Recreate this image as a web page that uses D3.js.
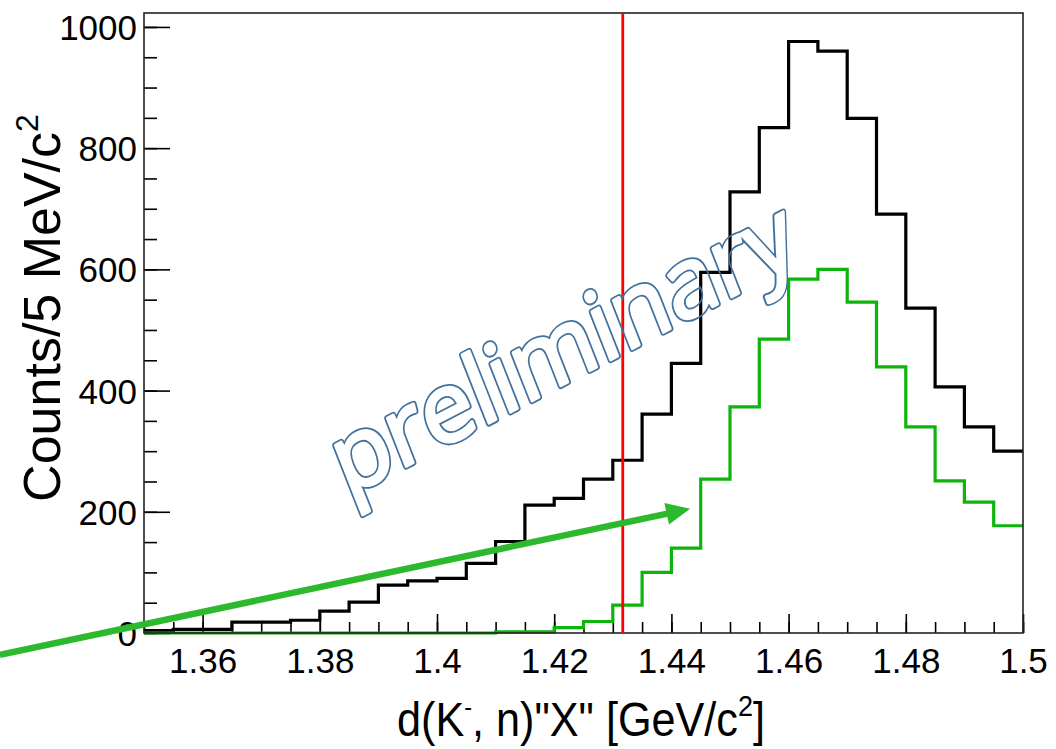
<!DOCTYPE html>
<html>
<head>
<meta charset="utf-8">
<script src="https://cdn.jsdelivr.net/npm/d3@7"></script>
<style>
  body { margin: 0; background: #fff; }
  svg { display: block; }
</style>
</head>
<body>
<svg id="chart" width="1056" height="749"></svg>
<script>
// Binning of the missing-mass histograms (5 MeV/c^2 bins from 1.35 to 1.50 GeV/c^2)
const binLow = 1.35;
const binWidth = 0.005;
const nBins = 30;

// Counts per bin: all events (black) and the selected sample (green)
const allCounts = [4, 6, 6, 18, 18, 21, 36, 51, 79, 86,
                   90, 115, 151, 211, 222, 254, 285, 361, 445, 595,
                   728, 834, 976, 960, 849, 691, 536, 406, 340, 300];
const selectedCounts = [0, 0, 0, 0, 0, 0, 0, 0, 0, 0,
                        0, 0, 2, 2, 9, 19, 46, 100, 140, 254,
                        373, 485, 584, 600, 546, 439, 340, 251, 216, 177];

// K-bar N threshold marker
const thresholdMass = 1.4317;

// Axis ticks and labels
const xMajorTicks = [1.36, 1.38, 1.40, 1.42, 1.44, 1.46, 1.48, 1.50];
const xTickLabels = ["1.36", "1.38", "1.4", "1.42", "1.44", "1.46", "1.48", "1.5"];
const yMajorTicks = [0, 200, 400, 600, 800, 1000];
const yTickLabels = ["0", "200", "400", "600", "800", "1000"];
const yMax = 1023;

// Annotation arrow (data coordinates: mass, counts)
const arrowFrom = [1.3254, -36];
const arrowTo = [1.4432, 205];

const frame = { left: 144, right: 1023, top: 13, bottom: 633 };

const svg = d3.select("#chart");
svg.append("rect").attr("width", 1056).attr("height", 749).attr("fill", "#fff");

const x = d3.scaleLinear().domain([binLow, binLow + nBins * binWidth]).range([frame.left, frame.right]);
const y = d3.scaleLinear().domain([0, yMax]).range([frame.bottom, frame.top]);

const edges = d3.range(nBins + 1).map(i => binLow + i * binWidth);
const xMinorTicks = edges.slice();
const yMinorTicks = d3.range(0, 1001, 50);

const labelFont = "'Liberation Sans', Arial, Helvetica, sans-serif";

// Minor ticks (inside the frame)
const xMinor = svg.append("g").attr("transform", `translate(0,${frame.bottom})`)
  .call(d3.axisBottom(x).tickValues(xMinorTicks).tickSize(-11).tickFormat(""));
const yMinor = svg.append("g").attr("transform", `translate(${frame.left},0)`)
  .call(d3.axisLeft(y).tickValues(yMinorTicks).tickSize(-13).tickFormat(""));

// Major ticks with labels
const xAxis = svg.append("g").attr("transform", `translate(0,${frame.bottom})`)
  .call(d3.axisBottom(x).tickValues(xMajorTicks).tickSize(-19).tickPadding(15)
    .tickFormat((d, i) => xTickLabels[i]));
const yAxis = svg.append("g").attr("transform", `translate(${frame.left},0)`)
  .call(d3.axisLeft(y).tickValues(yMajorTicks).tickSize(-26).tickPadding(7)
    .tickFormat((d, i) => yTickLabels[i]));

[xMinor, yMinor, xAxis, yAxis].forEach(g => {
  g.select(".domain").remove();
  g.selectAll(".tick line").attr("stroke", "#000").attr("stroke-width", 1.6);
  g.selectAll(".tick text").attr("fill", "#000")
    .attr("font-family", labelFont).attr("font-size", 35);
});
yAxis.selectAll(".tick text").attr("dy", "0.36em");

// Histograms drawn as step outlines
const stepLine = d3.line()
  .x(d => x(d[0]))
  .y(d => y(d[1]))
  .curve(d3.curveStepAfter);

function outline(counts) {
  const pts = counts.map((c, i) => [edges[i], c]);
  pts.push([edges[nBins], counts[nBins - 1]]);
  return pts;
}

svg.append("path")
  .attr("d", stepLine(outline(allCounts)))
  .attr("fill", "none").attr("stroke", "#000").attr("stroke-width", 3.2);

svg.append("path")
  .attr("d", stepLine(outline(selectedCounts)))
  .attr("fill", "none").attr("stroke", "#0cb40c").attr("stroke-width", 3.2);

// Frame
svg.append("rect")
  .attr("x", frame.left).attr("y", frame.top)
  .attr("width", frame.right - frame.left).attr("height", frame.bottom - frame.top)
  .attr("fill", "none").attr("stroke", "#222").attr("stroke-width", 1.6);

// Threshold line
svg.append("line")
  .attr("x1", x(thresholdMass)).attr("x2", x(thresholdMass))
  .attr("y1", y(yMax)).attr("y2", y(0))
  .attr("stroke", "#ff0000").attr("stroke-width", 2.8);

// Axis titles
const xTitle = svg.append("text")
  .attr("transform", "translate(581,736) scale(0.9,1)")
  .attr("text-anchor", "middle")
  .attr("font-family", labelFont).attr("font-size", 48)
  .attr("fill", "#000");
xTitle.append("tspan").text("d(K");
xTitle.append("tspan").attr("dy", -20).attr("font-size", 26).text("-");
xTitle.append("tspan").attr("dy", 20).text(", n)\"X\" [GeV/c");
xTitle.append("tspan").attr("dy", -20).attr("font-size", 30).text("2");
xTitle.append("tspan").attr("dy", 20).text("]");

const yTitle = svg.append("text")
  .attr("transform", "translate(60,308) rotate(-90)")
  .attr("text-anchor", "middle")
  .attr("font-family", labelFont).attr("font-size", 52)
  .attr("fill", "#000");
yTitle.append("tspan").text("Counts/5 MeV/c");
yTitle.append("tspan").attr("dy", -22).attr("font-size", 32).text("2");

// Watermark: hollow, slightly emboldened lettering (outer ring of a dilated glyph)
const wmText = "preliminary";
const wmFont = { family: "'Open Sans', Lato, sans-serif", size: 96 };
const grow = 2.4, ring = 1.7;
const defs = svg.append("defs");
const mask = defs.append("mask").attr("id", "wm-hollow")
  .attr("maskUnits", "userSpaceOnUse")
  .attr("x", -200).attr("y", -300).attr("width", 1000).attr("height", 500);
mask.append("rect").attr("x", -200).attr("y", -300).attr("width", 1000).attr("height", 500).attr("fill", "#fff");
mask.append("text")
  .attr("font-family", wmFont.family).attr("font-size", wmFont.size)
  .attr("fill", "#000").attr("stroke", "#000")
  .attr("stroke-width", 2 * grow - ring).attr("stroke-linejoin", "round")
  .text(wmText);
svg.append("g")
  .attr("transform", "translate(347,497) rotate(-27.5) skewX(-6)")
  .attr("mask", "url(#wm-hollow)")
  .append("text")
  .attr("font-family", wmFont.family).attr("font-size", wmFont.size)
  .attr("fill", "#41719c").attr("stroke", "#41719c")
  .attr("stroke-width", 2 * grow + ring).attr("stroke-linejoin", "round")
  .text(wmText);

// Annotation arrow
const ax0 = x(arrowFrom[0]), ay0 = y(arrowFrom[1]);
const ax1 = x(arrowTo[0]), ay1 = y(arrowTo[1]);
const ang = Math.atan2(ay1 - ay0, ax1 - ax0);
const headLen = 24, headHalf = 11;
const bx = ax1 - headLen * Math.cos(ang), by = ay1 - headLen * Math.sin(ang);
svg.append("line")
  .attr("x1", ax0).attr("y1", ay0).attr("x2", bx + 2 * Math.cos(ang)).attr("y2", by + 2 * Math.sin(ang))
  .attr("stroke", "#2db92d").attr("stroke-width", 6.5);
svg.append("path")
  .attr("d", `M${ax1},${ay1}L${bx - headHalf * Math.sin(ang)},${by + headHalf * Math.cos(ang)}L${bx + headHalf * Math.sin(ang)},${by - headHalf * Math.cos(ang)}Z`)
  .attr("fill", "#2db92d");
</script>
</body>
</html>
